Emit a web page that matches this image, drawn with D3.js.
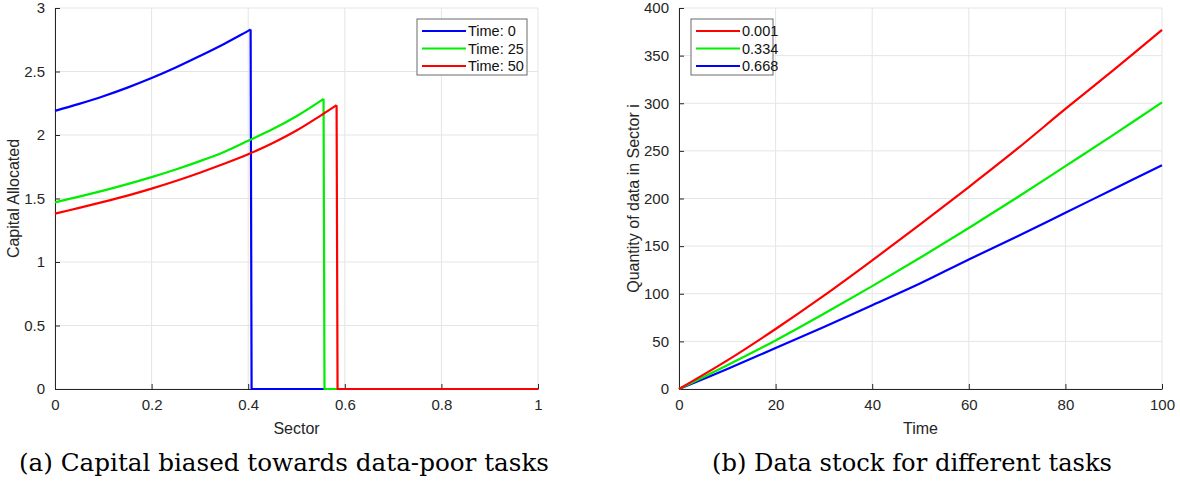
<!DOCTYPE html>
<html><head><meta charset="utf-8">
<script src="https://cdn.jsdelivr.net/npm/d3@7"></script>
<style>
html,body{margin:0;padding:0;background:#fff;}
svg{display:block;}
</style></head>
<body>
<svg id="chart" width="1180" height="483"></svg>
<script>
// ---------- Data: panel (a) ----------
const sectorTicks = [0, 0.2, 0.4, 0.6, 0.8, 1];
const capitalTicks = [0, 0.5, 1, 1.5, 2, 2.5, 3];
const capitalTickLabels = ["0", "0.5", "1", "1.5", "2", "2.5", "3"];
const sectorTickLabels = ["0", "0.2", "0.4", "0.6", "0.8", "1"];
const legendA = ["Time: 0", "Time: 25", "Time: 50"];
// rising part of each curve
const sectorT0 = [0, 0.05, 0.1, 0.15, 0.2, 0.25, 0.3, 0.35, 0.4, 0.405];
const capitalT0 = [2.19, 2.245, 2.305, 2.373, 2.448, 2.531, 2.622, 2.717, 2.82, 2.83];
const sectorT25 = [0, 0.05, 0.1, 0.15, 0.2, 0.25, 0.3, 0.35, 0.4, 0.45, 0.5, 0.55, 0.556];
const capitalT25 = [1.47, 1.515, 1.5625, 1.6135, 1.6685, 1.7285, 1.7945, 1.867, 1.955, 2.045, 2.148, 2.268, 2.285];
const sectorT50 = [0, 0.05, 0.1, 0.15, 0.2, 0.25, 0.3, 0.35, 0.4, 0.45, 0.5, 0.55, 0.583];
const capitalT50 = [1.381, 1.426, 1.473, 1.523, 1.578, 1.638, 1.703, 1.773, 1.848, 1.935, 2.035, 2.153, 2.235];
// drop to zero and zero tail
const cutoffSector = [0.407, 0.558, 0.585];
const tailEnd = 1;

// ---------- Data: panel (b) ----------
const timeTicks = [0, 20, 40, 60, 80, 100];
const dataTicks = [0, 50, 100, 150, 200, 250, 300, 350, 400];
const legendB = ["0.001", "0.334", "0.668"];
const time = [0, 10, 20, 30, 40, 50, 60, 70, 80, 90, 100];
const data001 = [0, 30, 63, 98, 135, 173, 212, 252, 294, 335, 377];
const data334 = [0, 25, 51, 79, 108, 138, 169, 201, 234, 267, 301];
const data668 = [0, 21, 43, 65, 88, 111, 136, 160, 185, 210, 235];

const captions = ["(a) Capital biased towards data-poor tasks", "(b) Data stock for different tasks"];

// ---------- Drawing ----------
const svg = d3.select("#chart");
const SANS = '"Liberation Sans",Arial,Helvetica,sans-serif';
const SERIF = '"DejaVu Serif","Liberation Serif",serif';
const BLUE = "#0000ff", GREEN = "#00ee00", RED = "#ff0000";
const plotTop = 8, plotBottom = 389;

function axesFrame(g, x, y, xTicks, xLabels, yTicks, yLabels, xTitle, yTitle, yTitleX) {
  const [x0, x1] = x.range();
  g.append("g").selectAll("line").data(xTicks).join("line")
    .attr("x1", d => x(d)).attr("x2", d => x(d)).attr("y1", plotTop).attr("y2", plotBottom)
    .attr("stroke", "#e5e5e5").attr("stroke-width", 1);
  g.append("g").selectAll("line").data(yTicks).join("line")
    .attr("x1", x0).attr("x2", x1).attr("y1", d => y(d)).attr("y2", d => y(d))
    .attr("stroke", "#e5e5e5").attr("stroke-width", 1);
  const xa = d3.axisBottom(x).tickValues(xTicks).tickFormat((d, i) => xLabels[i])
    .tickSizeInner(-5).tickSizeOuter(0).tickPadding(10);
  const ya = d3.axisLeft(y).tickValues(yTicks).tickFormat((d, i) => yLabels[i])
    .tickSizeInner(-5).tickSizeOuter(0).tickPadding(10);
  const gx = g.append("g").attr("transform", `translate(0,${plotBottom})`).call(xa);
  const gy = g.append("g").attr("transform", `translate(${x0},0)`).call(ya);
  [gx, gy].forEach(a => {
    a.attr("font-family", SANS).attr("font-size", 15);
    a.select(".domain").attr("stroke", "#262626").attr("stroke-width", 1);
    a.selectAll(".tick line").attr("stroke", "#262626");
    a.selectAll(".tick text").attr("fill", "#262626");
  });
  gx.selectAll(".tick text").attr("dy", "0.75em");
  g.append("text").attr("x", (x0 + x1) / 2).attr("y", 434).attr("text-anchor", "middle")
    .style("font-family", SANS).attr("font-size", 16).attr("fill", "#262626").text(xTitle);
  g.append("text").attr("transform", `translate(${yTitleX},${(plotTop + plotBottom) / 2}) rotate(-90)`)
    .attr("text-anchor", "middle").style("font-family", SANS).attr("font-size", 16)
    .attr("fill", "#262626").text(yTitle);
}

function legend(g, x, y, w, labels, colors) {
  const h = 56;
  g.append("rect").attr("x", x).attr("y", y).attr("width", w).attr("height", h)
    .attr("fill", "#fff").attr("stroke", "#6a6a6a").attr("stroke-width", 1);
  labels.forEach((lab, i) => {
    const yy = y + 12 + i * 17.5;
    g.append("line").attr("x1", x + 5).attr("x2", x + 49).attr("y1", yy).attr("y2", yy)
      .attr("stroke", colors[i]).attr("stroke-width", 2.2);
    g.append("text").attr("x", x + 51).attr("y", yy).attr("dy", "0.36em")
      .style("font-family", SANS).attr("font-size", 14.5).attr("fill", "#111").text(lab);
  });
}

// Panel (a)
const xA = d3.scaleLinear().domain([0, 1]).range([55, 538]);
const yA = d3.scaleLinear().domain([0, 3]).range([plotBottom, plotTop]);
const gA = svg.append("g");
axesFrame(gA, xA, yA, sectorTicks, sectorTickLabels, capitalTicks, capitalTickLabels,
  "Sector", "Capital Allocated", 19);

const seriesA = [
  {xs: sectorT0, ys: capitalT0, cut: cutoffSector[0], color: BLUE},
  {xs: sectorT25, ys: capitalT25, cut: cutoffSector[1], color: GREEN},
  {xs: sectorT50, ys: capitalT50, cut: cutoffSector[2], color: RED}
];
const curveLine = d3.line().x(d => xA(d[0])).y(d => yA(d[1])).curve(d3.curveCatmullRom.alpha(0.5));
const straightLine = d3.line().x(d => xA(d[0])).y(d => yA(d[1]));
seriesA.forEach(s => {
  const pts = s.xs.map((v, i) => [v, s.ys[i]]);
  const last = pts[pts.length - 1];
  gA.append("path").attr("d", curveLine(pts)).attr("fill", "none")
    .attr("stroke", s.color).attr("stroke-width", 2.2);
  gA.append("path").attr("d", straightLine([last, [s.cut, 0], [tailEnd, 0]])).attr("fill", "none")
    .attr("stroke", s.color).attr("stroke-width", 2.2).attr("stroke-linejoin", "round");
});
legend(gA, 417, 19, 110, legendA, [BLUE, GREEN, RED]);

// Panel (b)
const xB = d3.scaleLinear().domain([0, 100]).range([679, 1162]);
const yB = d3.scaleLinear().domain([0, 400]).range([plotBottom, plotTop]);
const gB = svg.append("g");
axesFrame(gB, xB, yB, timeTicks, timeTicks.map(String), dataTicks, dataTicks.map(String),
  "Time", "Quantity of data in Sector i", 639);
const lineB = d3.line().x(d => xB(d[0])).y(d => yB(d[1])).curve(d3.curveCatmullRom.alpha(0.5));
[[data668, BLUE], [data334, GREEN], [data001, RED]].forEach(([ys, c]) => {
  gB.append("path").attr("d", lineB(time.map((t, i) => [t, ys[i]]))).attr("fill", "none")
    .attr("stroke", c).attr("stroke-width", 2.2);
});
legend(gB, 691, 19, 82, legendB, [RED, GREEN, BLUE]);

// Captions
const capPos = [[19, 549], [712, 1112]];
captions.forEach((c, i) => {
  svg.append("text").attr("x", capPos[i][0]).attr("y", 471)
    .style("font-family", SERIF)
    .attr("font-size", 25).attr("fill", "#000")
    .attr("textLength", capPos[i][1] - capPos[i][0]).attr("lengthAdjust", "spacingAndGlyphs")
    .text(c);
});
</script>
</body></html>
